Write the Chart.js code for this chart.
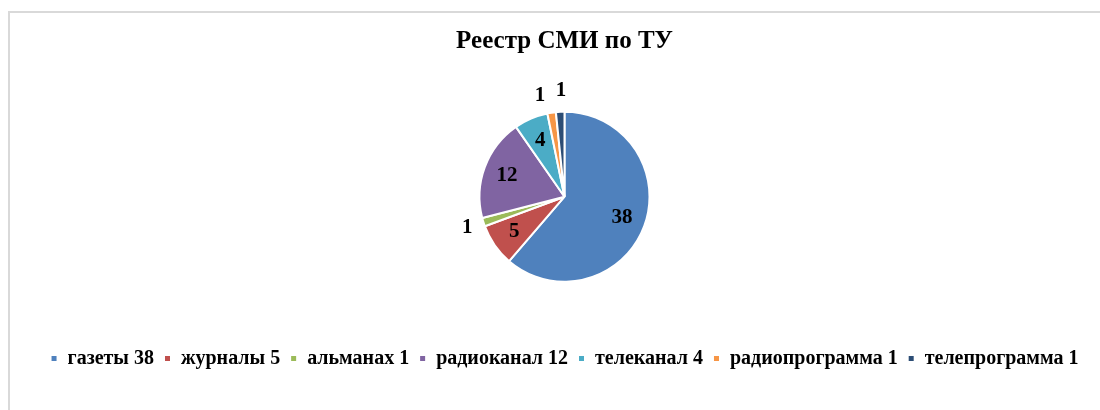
<!DOCTYPE html>
<html>
<head>
<meta charset="utf-8">
<script src="https://cdn.jsdelivr.net/npm/chart.js@4"></script>
<style>
  html, body { margin: 0; padding: 0; background: #fff; overflow: hidden; }
  .frame {
    position: absolute; left: 8px; top: 11px;
    width: 1200px; height: 500px;
    border: 2px solid #d9d9d9;
  }
  #chart { position: absolute; left: 0; top: 0; }
</style>
</head>
<body>
<div class="frame"></div>
<canvas id="chart" width="1100" height="410"></canvas>
<script>
const categories = ["газеты", "журналы", "альманах", "радиоканал", "телеканал", "радиопрограмма", "телепрограмма"];
const counts = [38, 5, 1, 12, 4, 1, 1];
const colors = ["#4F81BD", "#C0504D", "#9BBB59", "#8064A2", "#4BACC6", "#F79646", "#2C4D75"];

const serif = "'Liberation Serif', 'Times New Roman', serif";

// value labels: inside for big slices, just outside for the tiny ones
const sliceLabels = {
  id: "sliceLabels",
  afterDatasetsDraw(chart) {
    const ctx = chart.ctx;
    const meta = chart.getDatasetMeta(0);
    const data = chart.data.datasets[0].data;
    const total = data.reduce((a, b) => a + b, 0);
    ctx.save();
    ctx.font = "bold 21px " + serif;
    ctx.fillStyle = "#000";
    ctx.textAlign = "center";
    ctx.textBaseline = "middle";

    const spots = meta.data.map((arc, i) => {
      const p = arc.getProps(["x", "y", "startAngle", "endAngle", "outerRadius"], true);
      const mid = (p.startAngle + p.endAngle) / 2;
      const small = data[i] / total < 0.05;
      const r = small ? p.outerRadius + 17 : p.outerRadius * 0.72;
      return { x: p.x + Math.cos(mid) * r, y: p.y + Math.sin(mid) * r, small, text: String(data[i]) };
    });

    // push neighbouring outside labels apart so they don't collide
    for (let i = 1; i < spots.length; i++) {
      const a = spots[i - 1], b = spots[i];
      if (!a.small || !b.small) continue;
      const need = 21 - Math.abs(b.x - a.x);
      if (need > 0 && Math.abs(b.y - a.y) < 20) {
        a.x -= need * 0.85; b.x += need * 0.15;
        b.y -= 4;
      }
    }
    spots.forEach(s => ctx.fillText(s.text, s.x, s.y));
    ctx.restore();
  }
};

new Chart(document.getElementById("chart"), {
  type: "pie",
  data: {
    labels: categories.map((c, i) => c + " " + counts[i]),
    datasets: [{
      data: counts,
      backgroundColor: colors,
      borderColor: "#fff",
      borderWidth: 2,
      radius: 85
    }]
  },
  options: {
    responsive: false,
    animation: false,
    layout: { padding: { left: 29, right: 0, top: 0, bottom: 31.5 } },
    plugins: {
      title: {
        display: true,
        text: "Реестр СМИ по ТУ",
        color: "#000",
        font: { family: serif, size: 25, weight: "bold", lineHeight: 1 },
        padding: { top: 29.5, bottom: 0.4 }
      },
      legend: {
        position: "bottom",
        labels: {
          color: "#000",
          font: { family: serif, size: 20, weight: "bold" },
          boxWidth: 7,
          boxHeight: 7,
          padding: 10
        }
      },
      tooltip: { enabled: false }
    }
  },
  plugins: [sliceLabels]
});
</script>
</body>
</html>
